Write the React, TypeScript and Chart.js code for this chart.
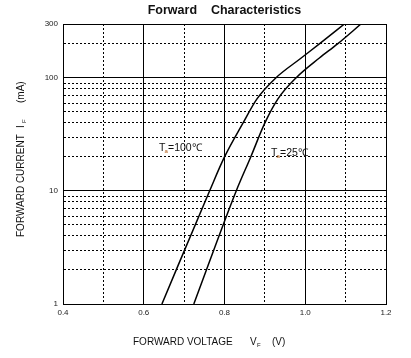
import React, { useEffect, useRef } from "react";
import { Chart, registerables } from "chart.js";

Chart.register(...registerables);

// ---- Data ----
const TITLE = "Forward    Characteristics";
const X_TITLE = "FORWARD VOLTAGE";
const Y_TITLE = "FORWARD CURRENT";

const X_GRID = [0.4, 0.5, 0.6, 0.7, 0.8, 0.9, 1.0, 1.1, 1.2];
const X_MAJOR = [0.4, 0.6, 0.8, 1.0, 1.2];
const Y_GRID = [1, 2, 3, 4, 5, 6, 7, 8, 9, 10, 20, 30, 40, 50, 60, 70, 80, 90, 100, 200, 300];
const Y_MAJOR = [1, 10, 100, 300];

// Ta = 100 °C
const V_100 = [0.645, 0.763, 0.800, 0.846, 0.880, 0.927, 0.990, 1.035, 1.097];
const I_100 = [1, 10, 20, 40, 65, 100, 150, 200, 300];
// Ta = 25 °C
const V_25 = [0.724, 0.829, 0.865, 0.900, 0.932, 0.977, 1.035, 1.080, 1.138];
const I_25 = [1, 10, 20, 40, 65, 100, 150, 200, 300];

const FONT = 'Arial, "Liberation Sans", sans-serif';

const isMajor = (arr: number[], v: number) => arr.some((m) => Math.abs(m - v) < 1e-6);

const textPlugin = {
  id: "texts",
  afterDraw(chart: any) {
    const ctx = chart.ctx as CanvasRenderingContext2D;
    const area = chart.chartArea;
    ctx.save();
    ctx.fillStyle = "#111";
    ctx.textBaseline = "middle";

    // Title
    ctx.font = `bold 12.5px ${FONT}`;
    ctx.textAlign = "center";
    ctx.fillText(TITLE, (area.left + area.right) / 2, 11);

    // X axis title
    ctx.textAlign = "left";
    ctx.font = `10px ${FONT}`;
    const xy = 342;
    ctx.fillText(X_TITLE, 133, xy);
    ctx.fillText("V", 250, xy);
    ctx.font = `6px ${FONT}`;
    ctx.fillText("F", 257, xy + 3);
    ctx.font = `10px ${FONT}`;
    ctx.fillText("(V)", 272, xy);

    // Y axis title (rotated)
    ctx.save();
    ctx.translate(21, 237);
    ctx.rotate(-Math.PI / 2);
    ctx.font = `10px ${FONT}`;
    ctx.fillText(Y_TITLE, 0, 0);
    ctx.fillText("I", 109, 0);
    ctx.font = `6px ${FONT}`;
    ctx.fillText("F", 114, 3);
    ctx.font = `10px ${FONT}`;
    ctx.fillText("(mA)", 134, 0);
    ctx.restore();

    // Annotations
    const label = (x: number, y: number, rest: string) => {
      ctx.font = `10.5px ${FONT}`;
      ctx.fillStyle = "#111";
      ctx.fillText("T", x, y);
      ctx.font = `6px ${FONT}`;
      ctx.fillStyle = "#b05a10";
      ctx.fillText("a", x + 5.5, y + 3.5);
      ctx.font = `10.5px ${FONT}`;
      ctx.fillStyle = "#111";
      ctx.fillText(rest, x + 9, y);
    };
    label(159, 148, "=100℃");
    label(271, 153, "=25℃");
    ctx.restore();
  },
};

export default function App() {
  const ref = useRef<HTMLCanvasElement | null>(null);
  useEffect(() => {
    if (!ref.current) return;
    const chart = new Chart(ref.current, {
      type: "line",
      data: {
        datasets: [
          {
            label: "Ta=100℃",
            data: V_100.map((v, i) => ({ x: v, y: I_100[i] })),
            borderColor: "#000",
            borderWidth: 1.5,
            pointRadius: 0,
            cubicInterpolationMode: "monotone",
            fill: false,
          },
          {
            label: "Ta=25℃",
            data: V_25.map((v, i) => ({ x: v, y: I_25[i] })),
            borderColor: "#000",
            borderWidth: 1.5,
            pointRadius: 0,
            cubicInterpolationMode: "monotone",
            fill: false,
          },
        ],
      },
      options: {
        responsive: false,
        animation: false,
        layout: { padding: { top: 24, right: 25, bottom: 0, left: 0 } },
        plugins: {
          legend: { display: false },
          tooltip: { enabled: false },
          title: { display: false },
        },
        scales: {
          x: {
            type: "linear",
            min: 0.4,
            max: 1.2,
            afterBuildTicks: (s: any) => {
              s.ticks = X_GRID.map((v) => ({ value: v }));
            },
            afterFit: (s: any) => {
              s.height = 54;
            },
            ticks: {
              autoSkip: false,
              maxRotation: 0,
              padding: 4,
              color: "#222",
              font: { family: FONT, size: 8 },
              callback: (v: any) => (isMajor(X_MAJOR, Number(v)) ? Number(v).toFixed(1) : ""),
            },
            grid: { color: "#000", lineWidth: 1, drawTicks: false },
            border: {
              display: true,
              color: "#000",
              width: 1,
              dash: (c: any) => (c && c.tick && !isMajor(X_MAJOR, c.tick.value) ? [2, 2] : []),
            },
          },
          y: {
            type: "logarithmic",
            min: 1,
            max: 300,
            afterBuildTicks: (s: any) => {
              s.ticks = Y_GRID.map((v) => ({ value: v }));
            },
            afterFit: (s: any) => {
              s.width = 63;
            },
            ticks: {
              autoSkip: false,
              padding: 5,
              color: "#222",
              font: { family: FONT, size: 8 },
              callback: (v: any) => (isMajor(Y_MAJOR, Number(v)) ? String(v) : ""),
            },
            grid: { color: "#000", lineWidth: 1, drawTicks: false },
            border: {
              display: true,
              color: "#000",
              width: 1,
              dash: (c: any) => (c && c.tick && !isMajor(Y_MAJOR, c.tick.value) ? [2, 2] : []),
            },
          },
        },
      },
      plugins: [textPlugin],
    } as any);
    return () => chart.destroy();
  }, []);
  return (
    <div style={{ position: "absolute", left: 0, top: 0, width: 411, height: 358, background: "#fff" }}>
      <canvas ref={ref} width={411} height={358} />
    </div>
  );
}
